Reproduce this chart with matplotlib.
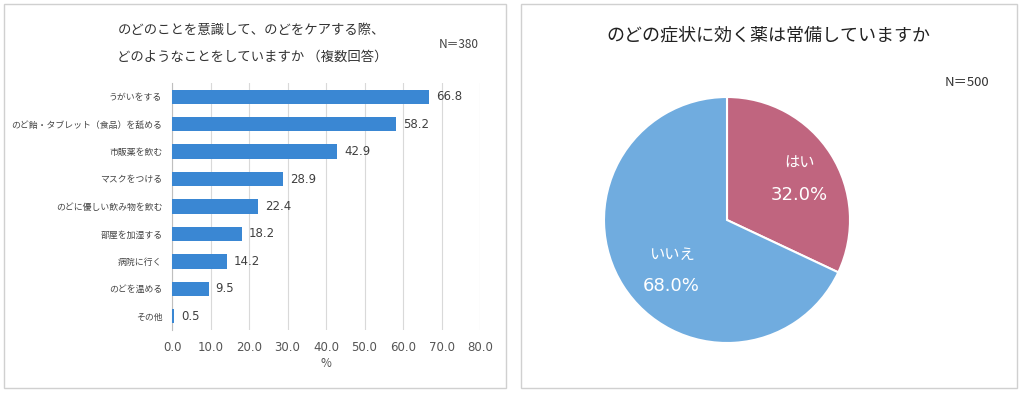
import matplotlib.pyplot as plt
from matplotlib.patches import Rectangle

plt.rcParams['font.family'] = ['Noto Sans CJK JP', 'DejaVu Sans']

# left chart data
care_items = ['うがいをする', 'のど飴・タブレット（食品）を舐める', '市販薬を飲む', 'マスクをつける',
              'のどに優しい飲み物を飲む', '部屋を加湿する', '病院に行く', 'のどを温める', 'その他']
care_values = [66.8, 58.2, 42.9, 28.9, 22.4, 18.2, 14.2, 9.5, 0.5]
x_ticks = [0, 10, 20, 30, 40, 50, 60, 70, 80]

# right chart data
pie_labels = ['はい', 'いいえ']
pie_values = [32.0, 68.0]
pie_colors = ['#C0657F', '#70ACDF']

fig = plt.figure(figsize=(10.22, 3.94), dpi=100)
W, H = 1022, 394

# panel frames
for x0, x1 in [(4, 506), (521, 1017)]:
    fig.patches.append(Rectangle((x0 / W, 1 - 388 / H), (x1 - x0) / W, (388 - 4) / H,
                                 transform=fig.transFigure, fill=False,
                                 edgecolor='#D0D0D0', linewidth=1.0))

# --- bar chart ---
ax = fig.add_axes([172 / W, 1 - 330 / H, (480 - 172) / W, (330 - 83) / H])
y = list(range(len(care_items)))
ax.barh(y, care_values, height=0.52, color='#3A87D3', zorder=3)
ax.set_ylim(len(care_items) - 0.5, -0.5)
ax.set_xlim(0, 80)
ax.set_xticks(x_ticks)
ax.set_xticklabels(['%.1f' % t for t in x_ticks], fontsize=8.5, color='#555555',
                   family='DejaVu Sans')
ax.set_yticks(y)
ax.set_yticklabels(care_items, fontsize=6.4, color='#444444')
ax.tick_params(axis='y', length=0, pad=7)
ax.tick_params(axis='x', length=0, pad=8)
ax.grid(axis='x', color='#D9D9D9', linewidth=0.8, zorder=0)
for s in ['top', 'right', 'bottom']:
    ax.spines[s].set_visible(False)
ax.spines['left'].set_color('#BFBFBF')
ax.set_xlabel('%', fontsize=8.5, color='#555555', labelpad=2)
for yi, v in zip(y, care_values):
    ax.text(v + 1.8, yi, '%.1f' % v, va='center', ha='left', fontsize=8.5,
            color='#404040', family='DejaVu Sans')

fig.text(252 / W, 1 - 30 / H, 'のどのことを意識して、のどをケアする際、', ha='center', va='center',
         fontsize=9.6, color='#333333')
fig.text(252 / W, 1 - 57 / H, 'どのようなことをしていますか （複数回答）', ha='center', va='center',
         fontsize=9.6, color='#333333')
fig.text(459 / W, 1 - 45 / H, 'N＝380', ha='center', va='center', fontsize=8.5, color='#404040')

# --- pie chart ---
r_px = 123
pax = fig.add_axes([(727 - 125) / W, 1 - (220 + 125) / H, 250 / W, 250 / H])
pax.pie(pie_values, colors=pie_colors, startangle=90, counterclock=False,
        wedgeprops=dict(edgecolor='white', linewidth=1.5))
lim = 125 / r_px
pax.set_xlim(-lim, lim)
pax.set_ylim(-lim, lim)
pax.set_aspect('equal')
pax.axis('off')

label_pos = [(0.59, 0.46, 0.20), (-0.45, -0.28, -0.54)]
for (lx, ly1, ly2), lab, v in zip(label_pos, pie_labels, pie_values):
    pax.text(lx, ly1, lab, ha='center', va='center', fontsize=11, color='white')
    pax.text(lx, ly2, '%.1f%%' % v, ha='center', va='center', fontsize=13, color='white',
             family='DejaVu Sans')

fig.text(768 / W, 1 - 35 / H, 'のどの症状に効く薬は常備していますか', ha='center', va='center',
         fontsize=13, color='#222222')
fig.text(967 / W, 1 - 82 / H, 'N＝500', ha='center', va='center', fontsize=9.5, color='#333333')

fig.savefig('out.png', dpi=100, facecolor='white')
